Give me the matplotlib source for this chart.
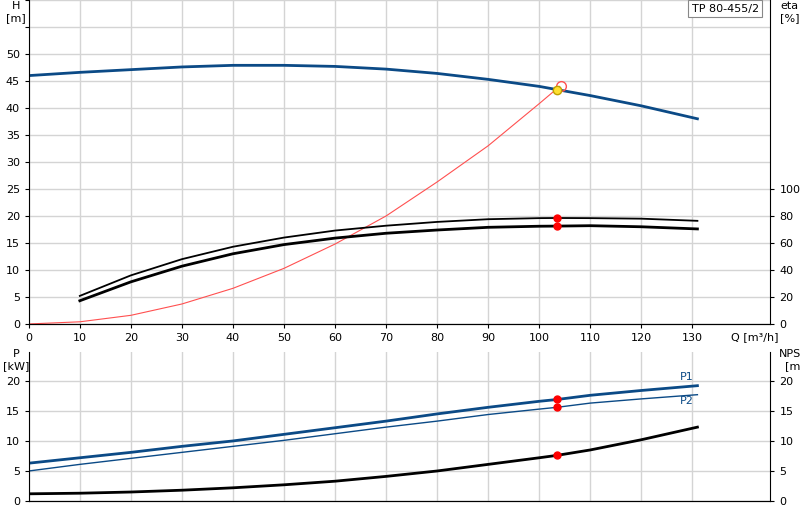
import matplotlib
matplotlib.use("Agg")
import matplotlib.pyplot as plt

q = [0, 10, 20, 30, 40, 50, 60, 70, 80, 90, 100, 103.5, 110, 120, 131]
head = [46, 46.6, 47.1, 47.6, 47.9, 47.9, 47.7, 47.2, 46.4, 45.3, 44.0, 43.4, 42.3, 40.4, 38.0]
sys_q = [0, 10, 20, 30, 40, 50, 60, 70, 80, 90, 100, 104]
sys_h = [0, 0.4, 1.6, 3.7, 6.6, 10.3, 14.8, 20.0, 26.3, 33.0, 40.8, 44.0]
eta_q = [10, 20, 30, 40, 50, 60, 70, 80, 90, 100, 103.5, 110, 120, 131]
eta_upper = [20.8, 36, 48, 57.2, 64, 69.2, 72.8, 75.6, 77.6, 78.4, 78.5, 78.4, 78, 76.4]
eta_lower = [17.2, 31.2, 42.8, 52, 58.8, 63.6, 67.2, 69.6, 71.6, 72.4, 72.5, 72.8, 72, 70.4]
p1 = [6.3, 7.2, 8.1, 9.1, 10.0, 11.1, 12.2, 13.3, 14.5, 15.6, 16.6, 16.9, 17.6, 18.4, 19.2]
p2 = [5.0, 6.1, 7.1, 8.1, 9.1, 10.1, 11.2, 12.3, 13.3, 14.4, 15.3, 15.6, 16.3, 17.0, 17.7]
npsh = [1.2, 1.3, 1.5, 1.8, 2.2, 2.7, 3.3, 4.1, 5.0, 6.1, 7.2, 7.6, 8.5, 10.2, 12.3]
duty_q = 103.5
x_ticks = [0, 10, 20, 30, 40, 50, 60, 70, 80, 90, 100, 110, 120, 130]

blue = "#0b4a86"
grid = "#d4d4d4"
fig = plt.figure(figsize=(8, 5.2), dpi=100)
ax = fig.add_axes([0.036, 0.377, 0.927, 0.623])
ax2 = ax.twinx()
bx = fig.add_axes([0.036, 0.0365, 0.927, 0.2865])
bx2 = bx.twinx()

for a in (ax, bx):
    a.set_xlim(0, 145.3)
    a.set_xticks(x_ticks)
    a.grid(True, color=grid, lw=1)
    a.set_axisbelow(True)
    for s in ("top", "right"):
        a.spines[s].set_visible(False)
    a.tick_params(labelsize=8, length=3)

ax.set_ylim(0, 60)
ax.set_yticks(range(0, 61, 5))
ax.set_yticklabels([str(v) if v <= 50 else "" for v in range(0, 61, 5)])
ax2.set_ylim(0, 240)
ax2.set_yticks([0, 20, 40, 60, 80, 100])
ax2.tick_params(labelsize=8, length=3)
for s in ("top", "left"):
    ax2.spines[s].set_visible(False)

ax.plot(q, head, color=blue, lw=2)
ax.plot(sys_q, sys_h, color="#ff5050", lw=0.8)
ax2.plot(eta_q, eta_upper, color="black", lw=1.3)
ax2.plot(eta_q, eta_lower, color="black", lw=2)
ax2.plot([duty_q, duty_q], [eta_upper[10], eta_lower[10]], "o", color="red", ms=5, ls="none")
ax.plot([104.2], [44.0], "o", mfc="none", mec="#ff5050", ms=7)
ax.plot([duty_q], [head[11]], "o", color="#ffe030", mec="#c0a000", ms=6)

ax.text(-2.5, 59.8, "H\n[m]", ha="center", va="top", fontsize=8, clip_on=False)
ax.text(149, 59.8, "eta\n[%]", ha="center", va="top", fontsize=8, clip_on=False)
ax.text(137.5, -2.5, "Q [m³/h]", fontsize=8, va="center")
ax.text(143, 59.3, "TP 80-455/2", fontsize=8, ha="right", va="top",
        bbox=dict(boxstyle="square,pad=0.3", fc="white", ec="#888888", lw=0.8))

bx.set_ylim(0, 24.8)
bx.set_yticks([0, 5, 10, 15, 20])
bx.set_xticklabels([])
bx.tick_params(axis="x", length=0)
bx2.set_ylim(0, 24.8)
bx2.set_yticks([0, 5, 10, 15, 20])
bx2.tick_params(labelsize=8, length=3)
for s in ("top", "left"):
    bx2.spines[s].set_visible(False)
bx.plot(q, p1, color=blue, lw=2)
bx.plot(q, p2, color=blue, lw=1)
bx2.plot(q, npsh, color="black", lw=2)
bx.plot([duty_q, duty_q], [p1[11], p2[11]], "o", color="red", ms=5, ls="none")
bx2.plot([duty_q], [npsh[11]], "o", color="red", ms=5)
bx.text(129, 19.8, "P1", color=blue, fontsize=8, ha="center", va="bottom")
bx.text(129, 17.4, "P2", color=blue, fontsize=8, ha="center", va="top")
bx.text(-2.5, 25.3, "P\n[kW]", ha="center", va="top", fontsize=8, clip_on=False)
bx.text(150, 25.3, "NPSH\n[m]", ha="center", va="top", fontsize=8, clip_on=False)

fig.savefig("out.png", dpi=100)
